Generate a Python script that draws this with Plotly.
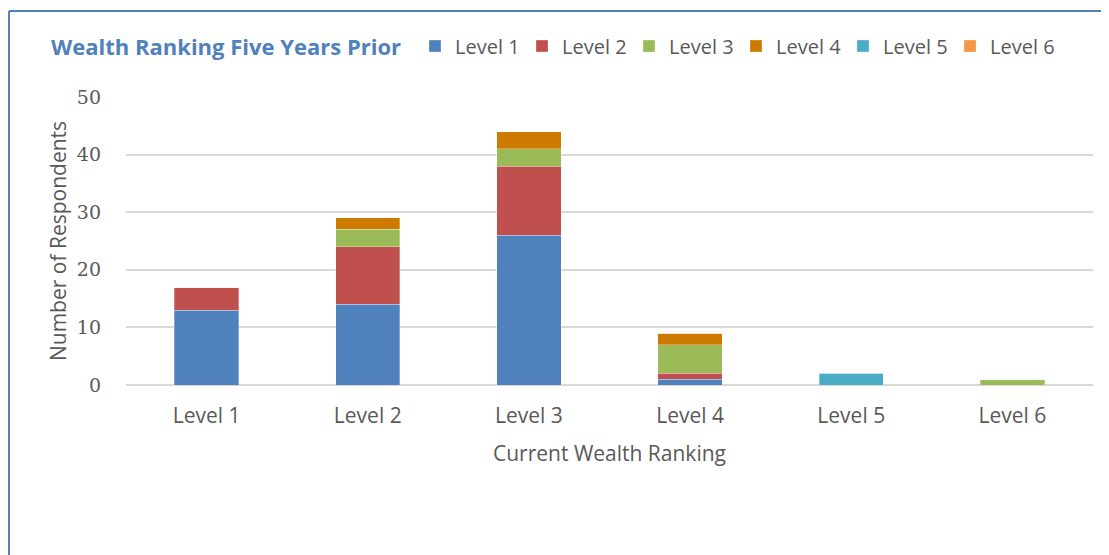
import plotly.graph_objects as go

# x categories: current wealth ranking
categories = ["Level 1", "Level 2", "Level 3", "Level 4", "Level 5", "Level 6"]

# series: wealth ranking five years prior
series_names = ["Level 1", "Level 2", "Level 3", "Level 4", "Level 5", "Level 6"]
prior_level1 = [13, 14, 26, 1, 0, 0]
prior_level2 = [4, 10, 12, 1, 0, 0]
prior_level3 = [0, 3, 3, 5, 0, 1]
prior_level4 = [0, 2, 3, 2, 0, 0]
prior_level5 = [0, 0, 0, 0, 2, 0]
prior_level6 = [0, 0, 0, 0, 0, 0]

y_ticks = [0, 10, 20, 30, 40, 50]

colors = ["#4F81BD", "#C0504D", "#9BBB59", "#CE7A00", "#4BACC6", "#F79646"]
all_series = [prior_level1, prior_level2, prior_level3,
              prior_level4, prior_level5, prior_level6]

fig = go.Figure()
for name, vals, col in zip(series_names, all_series, colors):
    fig.add_trace(go.Bar(
        x=categories,
        y=vals,
        name=name,
        marker=dict(color=col, line=dict(color="rgba(255,255,255,0.6)", width=0.5)),
    ))

# page is drawn with the default 8px body margin, so work in page pixels
OFF = 8
W, H = 1109 - OFF, 555 - OFF
L, R, T, B = 126 - OFF, 16, 97 - OFF, 555 - 385
pw = W - L - R
ph = H - T - B

def px_x(x):
    return (x - OFF - L) / pw

def px_y(y):
    return (H - B - (y - OFF)) / ph

sans = "Open Sans"
grey = "#595959"

fig.update_layout(
    width=W,
    height=H,
    barmode="stack",
    bargap=0.6,
    plot_bgcolor="white",
    paper_bgcolor="white",
    margin=dict(l=L, r=R, t=T, b=B, autoexpand=False),
    font=dict(family=sans, size=21, color=grey),
    showlegend=True,
    legend=dict(
        orientation="h",
        x=px_x(415),
        xanchor="left",
        y=px_y(46),
        yanchor="middle",
        font=dict(family=sans, size=20, color=grey),
        entrywidth=62,
        itemwidth=30,
        traceorder="normal",
        bgcolor="rgba(0,0,0,0)",
    ),
    xaxis=dict(
        showgrid=False,
        showline=False,
        ticks="",
        ticklabelstandoff=16,
        tickfont=dict(family=sans, size=21, color=grey),
        title=dict(text="Current Wealth Ranking", font=dict(family=sans, size=21, color=grey),
                   standoff=18),
    ),
    yaxis=dict(
        range=[0, 50],
        tickvals=y_ticks,
        showgrid=True,
        gridcolor="#D9D9D9",
        gridwidth=1.5,
        zeroline=True,
        zerolinecolor="#D9D9D9",
        zerolinewidth=1.5,
        showline=False,
        ticks="",
        ticklabelstandoff=24,
        tickfont=dict(family="DejaVu Serif", size=19, color=grey),
        title=dict(text="Number of Respondents", font=dict(family=sans, size=21, color=grey),
                   standoff=4),
    ),
)

fig.add_annotation(
    text="<b>Wealth Ranking Five Years Prior</b>",
    xref="paper", yref="paper",
    x=px_x(49), y=px_y(46),
    xanchor="left", yanchor="middle",
    showarrow=False,
    font=dict(family=sans, size=22, color="#4F81BD"),
)

# blue frame around the chart (left edge and top edge visible)
fig.add_shape(type="line", xref="paper", yref="paper",
              x0=px_x(9), x1=px_x(9), y0=px_y(11), y1=px_y(570),
              line=dict(color="#4F81BD", width=2))
fig.add_shape(type="line", xref="paper", yref="paper",
              x0=px_x(9), x1=px_x(1120), y0=px_y(11), y1=px_y(11),
              line=dict(color="#4F81BD", width=2))

fig.write_html("out.html")
